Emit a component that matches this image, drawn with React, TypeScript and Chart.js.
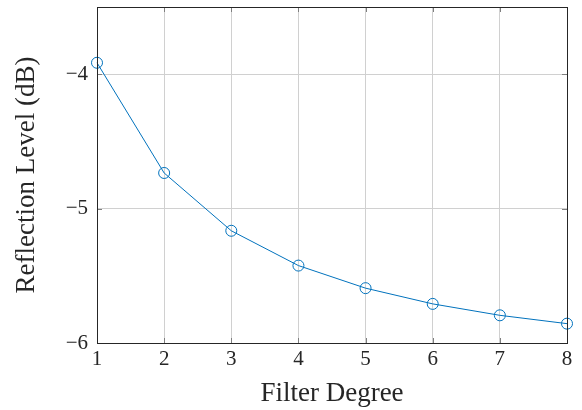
import React, { useEffect, useRef } from "react";
import { Chart, registerables } from "chart.js";

Chart.register(...registerables);

const degrees = [1, 2, 3, 4, 5, 6, 7, 8];
const reflection = [-3.915, -4.735, -5.165, -5.424, -5.592, -5.709, -5.794, -5.856];
const yTicks = [-6, -5, -4];
const xTicks = [1, 2, 3, 4, 5, 6, 7, 8];

const FONT = "'Liberation Serif', 'DejaVu Serif', serif";

const framePlugin = {
  id: "frame",
  afterDatasetsDraw(chart: any) {
    const { ctx, chartArea } = chart;
    const { left, right, top, bottom } = chartArea;
    const xs = chart.scales.x;
    const ys = chart.scales.y;
    ctx.save();
    ctx.strokeStyle = "#7f7f7f";
    ctx.lineWidth = 1;
    const tl = 5;
    ctx.beginPath();
    xTicks.forEach((v) => {
      const px = Math.round(xs.getPixelForValue(v)) + 0.5;
      ctx.moveTo(px, bottom);
      ctx.lineTo(px, bottom - tl);
      ctx.moveTo(px, top);
      ctx.lineTo(px, top + tl);
    });
    yTicks.forEach((v) => {
      const py = Math.round(ys.getPixelForValue(v)) + 0.5;
      ctx.moveTo(left, py);
      ctx.lineTo(left + tl, py);
      ctx.moveTo(right, py);
      ctx.lineTo(right - tl, py);
    });
    ctx.stroke();
    ctx.strokeStyle = "#262626";
    ctx.lineWidth = 1;
    ctx.strokeRect(Math.round(left) + 0.5, Math.round(top) + 0.5, Math.round(right - left), Math.round(bottom - top));
    ctx.restore();
  },
};

export default function App() {
  const ref = useRef<HTMLCanvasElement>(null);
  useEffect(() => {
    document.body.style.margin = "0";
    const chart = new Chart(ref.current!, {
      type: "line",
      data: {
        datasets: [
          {
            data: degrees.map((d, i) => ({ x: d, y: reflection[i] })),
            borderColor: "#0072BD",
            backgroundColor: "rgba(0,0,0,0)",
            borderWidth: 1,
            pointRadius: 5.5,
            pointBorderWidth: 1,
            pointBorderColor: "#0072BD",
            pointBackgroundColor: "rgba(0,0,0,0)",
            pointStyle: "circle",
            tension: 0,
            fill: false,
            clip: false as any,
          },
        ],
      },
      options: {
        animation: false,
        responsive: false,
        devicePixelRatio: 1,
        layout: { padding: { top: 7, right: 15, left: 0, bottom: 0 } },
        plugins: { legend: { display: false }, tooltip: { enabled: false } },
        scales: {
          x: {
            type: "linear",
            min: 1,
            max: 8,
            afterBuildTicks: (s: any) => {
              s.ticks = xTicks.map((v) => ({ value: v }));
            },
            afterFit: (s: any) => {
              s.height = 410 - 343;
              s.paddingLeft = 0;
              s.paddingRight = 0;
            },
            grid: { color: "#d0d0d0", drawTicks: false, lineWidth: 1 },
            border: { display: false },
            ticks: {
              color: "#262626",
              padding: 4,
              font: { family: FONT, size: 21 },
              callback: (v: any) => String(v),
            },
            title: {
              display: true,
              text: "Filter Degree",
              color: "#262626",
              font: { family: FONT, size: 27 },
              padding: { top: 4, bottom: 0 },
            },
          },
          y: {
            type: "linear",
            min: -6,
            max: -3.5,
            afterBuildTicks: (s: any) => {
              s.ticks = yTicks.map((v) => ({ value: v }));
            },
            afterFit: (s: any) => {
              s.width = 97;
              s.paddingTop = 0;
              s.paddingBottom = 0;
            },
            grid: { color: "#d0d0d0", drawTicks: false, lineWidth: 1 },
            border: { display: false },
            ticks: {
              color: "#262626",
              padding: 9,
              font: { family: FONT, size: 21 },
              callback: (v: any) => (v < 0 ? "\u2212" + String(Math.abs(v)) : String(v)),
            },
            title: {
              display: true,
              text: "Reflection Level (dB)",
              color: "#262626",
              font: { family: FONT, size: 27 },
              padding: { top: 11, bottom: 4 },
            },
          },
        },
      },
      plugins: [framePlugin],
    });
    return () => chart.destroy();
  }, []);
  return (
    <div style={{ position: "absolute", left: 0, top: 0, width: 582, height: 410, background: "#fff" }}>
      <canvas ref={ref} width={582} height={410} style={{ width: 582, height: 410 }} />
    </div>
  );
}
